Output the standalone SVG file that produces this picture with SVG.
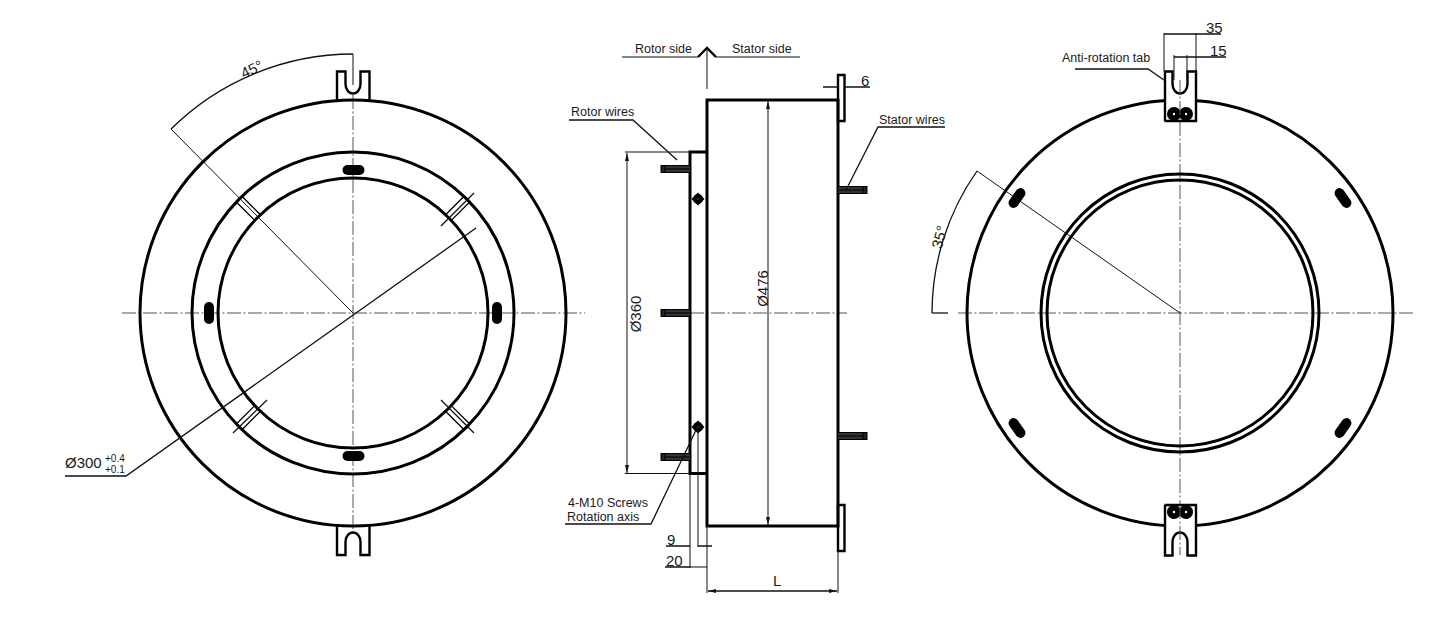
<svg xmlns="http://www.w3.org/2000/svg" width="1447" height="634" viewBox="0 0 1447 634">
<defs>
<marker id="arr" viewBox="0 0 8 4" refX="8" refY="2" markerWidth="8" markerHeight="4" markerUnits="userSpaceOnUse" orient="auto-start-reverse"><path d="M0 0L8 2L0 4Z" fill="#111"/></marker>
<g id="wire"><rect x="3" y="-3.500" width="26" height="7" fill="#333"/><path d="M3 -3.500H29M3 0H29M3 3.500H29" stroke="#000" stroke-width="1" fill="none"/><rect x="0" y="-3.500" width="4" height="7" fill="#222" stroke="#000" stroke-width="1"/></g>
<g id="screw"><circle r="5" fill="#000"/><path d="M-6.500 0L0 -6.500L6.500 0L0 6.500Z" fill="#000"/><circle r="0.800" fill="#555"/></g>
<g id="band"><path d="M-4 -136V-160M4 -136V-160" stroke="#000" stroke-width="1.300" fill="none"/></g>
<rect id="slot" x="-11" y="-5" width="22" height="10" rx="5" fill="#000"/>
</defs>
<style>
.t{font-family:"Liberation Sans",Arial,sans-serif;fill:#1a1a1a;font-size:12.500px}
.b{font-size:15px}
.s{font-size:10px}
.k{fill:none;stroke:#000;stroke-width:3}
.m{fill:none;stroke:#000;stroke-width:2.400}
.d{fill:none;stroke:#111;stroke-width:1}
.l{fill:none;stroke:#111;stroke-width:1.300}
.c{fill:none;stroke:#555;stroke-width:1;stroke-dasharray:14 2.500 2 2.500}
.h{fill:#000;stroke:none}
</style>
<rect width="1447" height="634" fill="#fff"/>
<g id="left-view">
<path class="c" d="M122 313H585M353 95V530"/>
<circle class="k" cx="353" cy="313" r="213"/>
<circle class="k" cx="353" cy="313" r="161"/>
<circle class="k" cx="353" cy="313" r="135"/>
<path class="m" d="M337 100V71.500H345.500V84A7.500 9.500 0 0 0 360.500 84V71.500H369.500V100"/>
<path class="m" d="M337 526V555H345.500V542A7.500 9.500 0 0 1 360.500 542V555H369.500V526"/>
<use href="#slot" x="353.500" y="170"/>
<use href="#slot" x="353.500" y="456"/>
<use href="#slot" transform="translate(209 313) rotate(90)"/>
<use href="#slot" transform="translate(497 313) rotate(90)"/>
<use href="#band" transform="translate(353 313) rotate(45)"/>
<use href="#band" transform="translate(353 313) rotate(135)"/>
<use href="#band" transform="translate(353 313) rotate(-135)"/>
<use href="#band" transform="translate(353 313) rotate(-45)"/>
<path class="l" d="M441 226L474 193M441 400L474 433M233 433L267 400"/>
<path class="d" d="M353 313L171 129M353 54V85"/>
<path class="l" d="M171 129A259 259 0 0 1 353 54"/>
<path class="l" d="M476 228L126 476H65"/>
<text class="t b" text-anchor="middle" transform="translate(254 74) rotate(-25)">45°</text>
<text class="t b" x="65" y="468">Ø300</text>
<text class="t s" x="105" y="462">+0.4</text>
<text class="t s" x="105" y="473">+0.1</text>
</g>
<g id="middle-view">
<path class="c" d="M690 313H847"/>
<path class="k" d="M707 526V100H838V526Z"/>
<path class="k" d="M707 152H690V473.500H707"/>
<path class="m" d="M838 75H844.500V121H838ZM838 505H844.500V551H838Z"/>
<use href="#wire" x="661" y="169"/>
<use href="#wire" x="661" y="313"/>
<use href="#wire" x="661" y="457"/>
<use href="#wire" transform="translate(867 190) scale(-1 1)"/>
<use href="#wire" transform="translate(867 436) scale(-1 1)"/>
<use href="#screw" x="698" y="199"/>
<use href="#screw" x="698" y="427"/>
<path class="m" d="M698 57L707 48L716 57"/>
<path class="d" d="M698 57H622M716 57H800M707 48V89"/>
<path class="l" d="M569 120H633L677 160M945 127H878L846 190M565 524H651L697 428"/>
<path class="d" marker-start="url(#arr)" marker-end="url(#arr)" d="M627 153V473"/>
<path class="d" d="M625 152H690M625 473.500H690"/>
<path class="d" marker-start="url(#arr)" marker-end="url(#arr)" d="M768 101V525"/>
<path class="l" d="M823 87H838M845 87H870M666 546H690M698 546H712M665 567H690"/>
<path class="d" d="M690 473V568M698 430V547M707 526V593M838 551V593M690 567H707"/>
<path class="l" marker-start="url(#arr)" marker-end="url(#arr)" d="M708 591H837"/>
<text class="t" x="635" y="52.500">Rotor side</text>
<text class="t" x="732" y="52.500">Stator side</text>
<text class="t" x="571" y="116">Rotor wires</text>
<text class="t" x="879" y="124">Stator wires</text>
<text class="t" x="568" y="507">4-M10 Screws</text>
<text class="t" x="567" y="521">Rotation axis</text>
<text class="t b" x="861" y="85.500">6</text>
<text class="t b" x="667" y="545">9</text>
<text class="t b" x="666" y="566">20</text>
<text class="t b" x="773" y="586">L</text>
<text class="t b" transform="translate(641 314) rotate(-90)" text-anchor="middle">Ø360</text>
<text class="t b" transform="translate(767.500 288.500) rotate(-90)" text-anchor="middle">Ø476</text>
</g>
<g id="right-view">
<path class="c" d="M958 313H1413M1180 80V555"/>
<path d="M932 313H948" stroke="#111" stroke-width="1.300"/>
<circle class="k" cx="1180" cy="313" r="213"/>
<circle class="k" cx="1180" cy="313" r="139"/>
<circle class="k" cx="1180" cy="313" r="133"/>
<rect x="1164" y="71" width="32.500" height="50" fill="#fff" stroke="none"/>
<path class="m" d="M1165 121V71.500H1172.500V84A7.500 9.500 0 0 0 1187.500 84V71.500H1196V121H1164.500"/>
<circle class="h" cx="1174" cy="114" r="7"/><circle class="h" cx="1186" cy="114" r="7"/>
<circle cx="1174" cy="114" r="1.200" fill="#fff"/><circle cx="1186" cy="114" r="1.200" fill="#fff"/>
<rect x="1164" y="504" width="32.500" height="52" fill="#fff" stroke="none"/>
<path class="m" d="M1165 505V555.500H1172.500V542A7.500 9.500 0 0 1 1187.500 542V555.500H1196V505H1164.500"/>
<circle class="h" cx="1174" cy="512" r="7"/><circle class="h" cx="1186" cy="512" r="7"/>
<circle cx="1174" cy="512" r="1.200" fill="#fff"/><circle cx="1186" cy="512" r="1.200" fill="#fff"/>
<path class="c" d="M1180 80V120M1180 505V555"/>
<use href="#slot" transform="translate(1017 198) rotate(-55)"/>
<use href="#slot" transform="translate(1343 198) rotate(55)"/>
<use href="#slot" transform="translate(1017 428) rotate(55)"/>
<use href="#slot" transform="translate(1343 428) rotate(-55)"/>
<path class="d" d="M1180 313L977 171M1164 33V71M1196 33V71M1174 55V80M1187 55V80"/>
<path class="l" d="M932 313A248 248 0 0 1 977 171"/>
<path class="l" d="M1164 34H1221M1174 57H1226"/>
<path class="l" d="M1075 69H1148L1164 80"/>
<text class="t b" x="1206" y="33">35</text>
<text class="t b" x="1210" y="56">15</text>
<text class="t" x="1062" y="62">Anti-rotation tab</text>
<text class="t b" text-anchor="middle" transform="translate(944.500 238.500) rotate(-75)">35°</text>
</g>
</svg>
